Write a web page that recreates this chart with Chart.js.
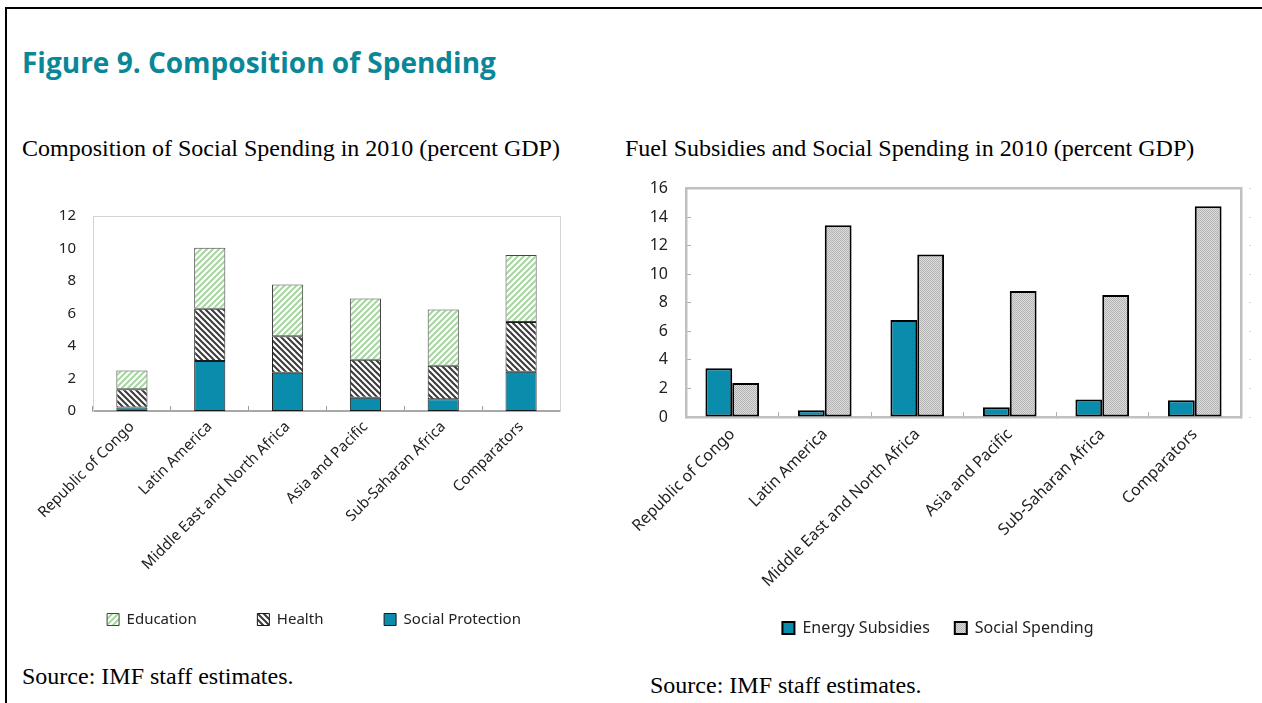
<!DOCTYPE html>
<html>
<head>
<meta charset="utf-8">
<title>Figure 9. Composition of Spending</title>
<script src="https://cdn.jsdelivr.net/npm/chart.js@4.4.0/dist/chart.umd.min.js"></script>
<style>
body{margin:0;background:#fff;width:1262px;height:703px;overflow:hidden;position:relative;font-family:"Liberation Serif","Times New Roman",serif;}
.frame{position:absolute;left:5px;top:7px;width:1300px;height:750px;border-left:2px solid #000;border-top:2px solid #000;}
.fig{position:absolute;left:22px;top:43px;font-family:"Open Sans",sans-serif;font-weight:bold;font-size:28px;color:#0a8797;white-space:nowrap;}
.ttl{position:absolute;font-size:24px;color:#000;white-space:nowrap;}
canvas{position:absolute;}
</style>
</head>
<body>
<div class="frame"></div>
<div class="fig">Figure 9. Composition of Spending</div>
<div class="ttl" style="left:22px;top:135px;">Composition of Social Spending in 2010 (percent GDP)</div>
<div class="ttl" style="left:625px;top:135px;">Fuel Subsidies and Social Spending in 2010 (percent GDP)</div>
<canvas id="chartLeft" width="580" height="460" style="left:20px;top:190px;"></canvas>
<canvas id="chartRight" width="650" height="494" style="left:610px;top:156px;"></canvas>
<div class="ttl" style="left:22px;top:663px;">Source: IMF staff estimates.</div>
<div class="ttl" style="left:650px;top:672px;">Source: IMF staff estimates.</div>

<script>
// data
var categories = ['Republic of Congo', 'Latin America', 'Middle East and North Africa', 'Asia and Pacific', 'Sub-Saharan Africa', 'Comparators'];

// left panel, percent of GDP (stacked)
var socialProtection = [0.21, 3.08, 2.36, 0.82, 0.72, 2.42];
var health = [1.13, 3.22, 2.24, 2.34, 2.07, 3.06];
var education = [1.15, 3.75, 3.18, 3.77, 3.45, 4.12];

// right panel, percent of GDP
var energySubsidies = [3.42, 0.47, 6.79, 0.68, 1.22, 1.17];
var socialSpending = [2.39, 13.44, 11.38, 8.83, 8.55, 14.76];

var teal = '#0a8cad';

//hatch fills
function stripes(color, forward) {
  var s = 6;
  var c = document.createElement('canvas');
  c.width = s; c.height = s;
  var g = c.getContext('2d');
  g.fillStyle = '#fff';
  g.fillRect(0, 0, s, s);
  g.strokeStyle = color;
  g.lineWidth = 2;
  g.beginPath();
  if (forward) {
    g.moveTo(0, s); g.lineTo(s, 0);
    g.moveTo(-s / 2, s / 2); g.lineTo(s / 2, -s / 2);
    g.moveTo(s / 2, s * 1.5); g.lineTo(s * 1.5, s / 2);
  } else {
    g.moveTo(0, 0); g.lineTo(s, s);
    g.moveTo(-s / 2, s / 2); g.lineTo(s / 2, s * 1.5);
    g.moveTo(s / 2, -s / 2); g.lineTo(s * 1.5, s / 2);
  }
  g.stroke();
  return g.createPattern(c, 'repeat');
}

function grayDots() {
  var c = document.createElement('canvas');
  c.width = 2; c.height = 2;
  var g = c.getContext('2d');
  g.fillStyle = '#dcdcdc';
  g.fillRect(0, 0, 2, 2);
  g.fillStyle = '#b4b4b4';
  g.fillRect(0, 0, 1, 1);
  g.fillRect(1, 1, 1, 1);
  return g.createPattern(c, 'repeat');
}

var eduFill = stripes('#a6d6a0', true);
var healthFill = stripes('#3a3a3a', false);
var grayFill = grayDots();

var tickFont = {family: 'Noto Sans', size: 15};

// wide gaps between legend entries without the big vertical padding
var gap = '             ';
function spacedLabels(chart) {
  var items = Chart.defaults.plugins.legend.labels.generateLabels(chart);
  items.forEach(function (it) {
    if (it.datasetIndex !== 0) it.text = it.text + gap;
  });
  return items;
}

const ctxLeft = document.getElementById('chartLeft');
var leftChart = new Chart(ctxLeft, {
  type: 'bar',
  data: {
    labels: categories,
    datasets: [
      {label: 'Social Protection', data: socialProtection, backgroundColor: teal, borderColor: '#1a1a1a', borderWidth: 1, borderSkipped: false},
      {label: 'Health', data: health, backgroundColor: healthFill, borderColor: '#1a1a1a', borderWidth: 1, borderSkipped: false},
      {label: 'Education', data: education, backgroundColor: eduFill, borderColor: '#444', borderWidth: 1, borderSkipped: false}
    ]
  },
  options: {
    responsive: false,
    animation: false,
    devicePixelRatio: 1,
    layout: {padding: {left: 15, top: 6, right: 7, bottom: 13}},
    datasets: {bar: {barPercentage: 0.4, categoryPercentage: 1}},
    plugins: {
      legend: {
        position: 'bottom',
        reverse: true,
        labels: {boxWidth: 12, boxHeight: 12, padding: 10, color: '#222', font: tickFont, generateLabels: spacedLabels}
      },
      tooltip: {enabled: false}
    },
    scales: {
      x: {
        stacked: true,
        grid: {display: true, drawOnChartArea: false, tickLength: -5, color: '#9a9a9a'},
        border: {color: '#a8a8a8', width: 2},
        ticks: {minRotation: 45, maxRotation: 45, autoSkip: false, padding: 12, color: '#222', font: tickFont},
        afterFit: function (s) { s.height = 191; }
      },
      x2: {
        type: 'category', position: 'top',
        grid: {display: false}, border: {color: '#d4d4d4', width: 1},
        ticks: {display: false},
        afterFit: function (s) { s.height = 0; }
      },
      y: {
        stacked: true, min: 0, max: 12,
        grid: {display: false, drawTicks: false}, border: {color: '#d4d4d4', width: 1},
        ticks: {stepSize: 2, padding: 17, color: '#222', font: tickFont},
        afterFit: function (s) { s.width = 58; }
      },
      y2: {
        type: 'linear', position: 'right', min: 0, max: 12,
        grid: {display: false}, border: {color: '#d4d4d4', width: 1},
        ticks: {display: false},
        afterFit: function (s) { s.width = 33; }
      }
    }
  }
});

var rFont = {family: 'Noto Sans', size: 16};

const ctxRight = document.getElementById('chartRight');
var rightChart = new Chart(ctxRight, {
  type: 'bar',
  data: {
    labels: categories,
    datasets: [
      {label: 'Energy Subsidies', data: energySubsidies, backgroundColor: teal, borderColor: '#000', borderWidth: 2, borderSkipped: false},
      {label: 'Social Spending', data: socialSpending, backgroundColor: grayFill, borderColor: '#000', borderWidth: 2, borderSkipped: false}
    ]
  },
  options: {
    responsive: false,
    animation: false,
    devicePixelRatio: 1,
    layout: {padding: {left: 18, top: 3, right: 12, bottom: 4}},
    datasets: {bar: {barPercentage: 1, categoryPercentage: 0.58}},
    plugins: {
      legend: {
        position: 'bottom',
        labels: {boxWidth: 12, boxHeight: 12, padding: 25, color: '#222', font: rFont}
      },
      tooltip: {enabled: false}
    },
    scales: {
      x: {
        grid: {display: true, drawOnChartArea: false, tickLength: -5, color: '#b0b0b0'},
        border: {color: '#c0c0c0', width: 2.5},
        ticks: {minRotation: 45, maxRotation: 45, autoSkip: false, padding: 13, color: '#222', font: rFont},
        afterFit: function (s) { s.height = 178; }
      },
      x2: {
        type: 'category', position: 'top',
        grid: {display: false}, border: {color: '#c0c0c0', width: 2.5},
        ticks: {display: false},
        afterFit: function (s) { s.height = 0; }
      },
      y: {
        min: 0, max: 16,
        grid: {display: true, drawOnChartArea: false, tickLength: -5, color: '#b0b0b0'},
        border: {color: '#c0c0c0', width: 2.5},
        ticks: {stepSize: 2, padding: 23, color: '#222', font: rFont},
        afterFit: function (s) { s.width = 58; }
      },
      y2: {
        type: 'linear', position: 'right', min: 0, max: 16,
        grid: {display: true, drawOnChartArea: false, tickLength: 10, color: '#c8c8e0', tickBorderDash: [0, 7, 2, 3]},
        border: {color: '#c0c0c0', width: 2.5},
        ticks: {display: false, stepSize: 2},
        afterFit: function (s) { s.width = 7; }
      }
    }
  }
});
</script>
</body>
</html>
